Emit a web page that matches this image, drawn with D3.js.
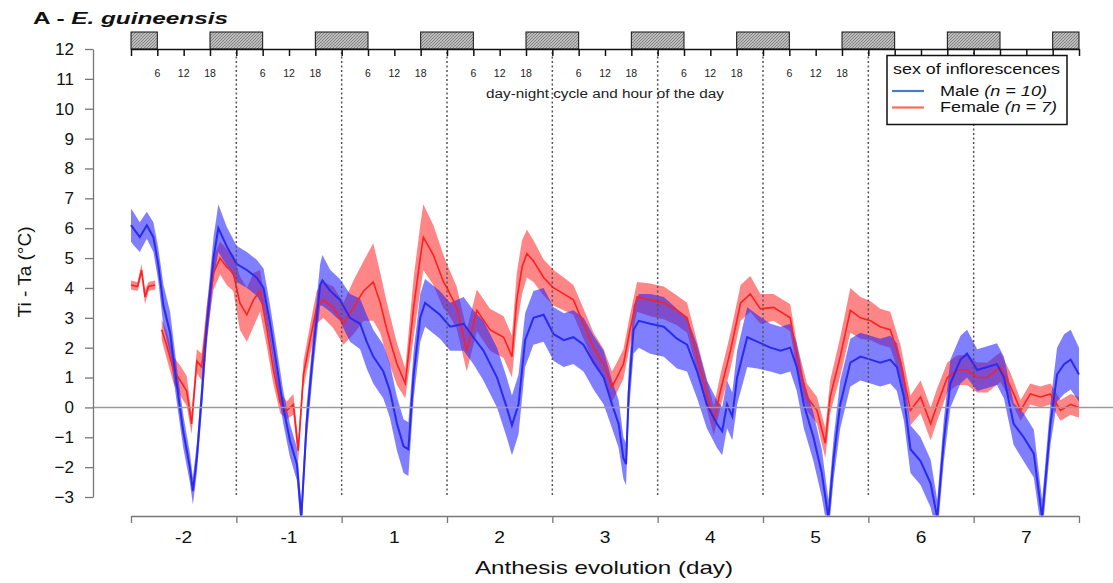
<!DOCTYPE html>
<html>
<head>
<meta charset="utf-8">
<script src="https://cdn.jsdelivr.net/npm/d3@7/dist/d3.min.js"></script>
<style>
  html, body { margin: 0; padding: 0; background: #fff; }
  svg { display: block; font-family: "Liberation Sans", Arial, Helvetica, sans-serif; }
</style>
</head>
<body>
<svg id="chart" width="1113" height="583"></svg>
<script>
// ---------------- DATA ----------------
// time in hours since the start of the record (9 days = 216 h)
const dayLabels = ["-2", "-1", "1", "2", "3", "4", "5", "6", "7"];
const dayBoundaries = [0, 24, 48, 72, 96, 120, 144, 168, 192, 216];
const midnightLines = [24, 48, 72, 96, 120, 144, 168, 192];
const hourTickLabels = ["6", "12", "18"];
const nightStart = [0, 18, 42, 66, 90, 114, 138, 162, 186, 210];
const nightEnd   = [6, 30, 54, 78, 102, 126, 150, 174, 198, 216];
const yTicks = [-3, -2, -1, 0, 1, 2, 3, 4, 5, 6, 7, 8, 9, 10, 11, 12];

// Male inflorescences (n = 10): mean and half-width of the shaded band
const maleHours = [0,0.5,2,3.6,5.1,6.2,7.4,8.9,10.4,11.9,13.4,14.1,15,16.1,17.2,18.8,19.9,21.8,24.1,26.4,28.6,30.2,31.7,33.2,34.7,36.2,37.8,38.8,40,41.6,43.1,43.6,45.4,47.6,49.9,52.2,53.7,55.2,57.5,59,60.6,62.1,63.2,64.4,65.9,67,70.4,72.7,75.8,78,80.3,83.4,85.6,86.8,88.3,89.8,91.7,94,96.3,98.6,100.8,103.1,105.4,107.7,109.6,111.1,112.2,112.8,113.4,114.5,115.7,118.3,121.4,124.4,126.7,129,131.2,133.5,134.7,135.8,137,138.1,140.4,142.7,145.7,148,150.2,151.7,153.3,155.5,157.4,158.9,160.1,161.6,163.9,166.2,168.5,170.7,173,174.5,176.1,177.6,179.9,182.2,183.7,185.2,186.7,189,190.5,192.8,195.1,197.3,198.9,201.1,203.4,205.7,207.6,209.5,211,212.6,214.1,216];
const maleMean = [6.1,6.0,5.7,6.1,5.7,4.8,3.4,2.5,0.8,-0.8,-2.0,-2.8,-1.7,0.35,2.6,5.0,6.0,5.4,4.8,4.6,4.35,4.0,2.8,1.4,0.0,-1.1,-1.9,-3.7,-0.55,2.0,4.1,4.25,3.9,3.6,3.0,2.8,2.2,1.7,1.2,0.55,-0.55,-1.3,-1.4,1.1,3.0,3.5,3.1,2.7,2.8,2.35,1.9,1.0,0.0,-0.6,0.1,2.25,3.0,3.1,2.45,2.25,2.35,2.1,1.5,1.0,0.1,-0.55,-1.7,-1.9,0.5,2.6,2.9,2.8,2.7,2.3,2.1,1.2,0.1,-0.55,-0.8,0.1,-0.3,1.0,2.35,2.2,2.0,1.9,2.0,1.35,0.1,-1.0,-2.2,-3.7,-1.7,0.1,1.5,1.7,1.6,1.5,1.6,1.35,0.35,-1.4,-1.8,-2.55,-3.7,-1.1,0.8,1.6,1.8,1.25,1.35,1.45,1.0,-0.55,-1.0,-1.55,-3.7,-0.55,1.1,1.45,1.6,1.1];
const maleErr  = [0.55,0.55,0.5,0.45,0.5,0.55,0.7,0.7,0.6,0.55,
                  0.5,0.45,0.5,0.55,0.6,0.7,0.8,0.65,0.6,0.6,
                  0.6,0.65,0.6,0.6,0.55,0.55,0.55,0.5,0.6,0.6,
                  0.7,0.85,0.7,0.7,0.8,0.85,0.9,0.9,0.9,0.9,
                  0.9,0.9,0.9,0.8,0.8,0.8,0.8,0.8,0.9,0.9,
                  1.0,1.0,1.0,1.0,1.0,0.9,0.9,0.9,0.9,0.9,
                  0.9,0.9,0.9,0.9,0.8,0.8,0.7,0.7,0.8,0.8,
                  0.9,1.0,1.0,1.0,0.9,0.9,0.8,0.8,0.8,0.8,
                  0.8,0.9,1.0,0.9,0.8,0.8,0.8,0.8,0.8,0.8,
                  0.8,0.6,0.7,0.8,0.8,0.8,0.8,0.8,0.8,0.8,
                  0.8,0.8,0.8,0.8,0.6,0.7,0.8,0.8,0.8,0.7,
                  0.7,0.7,0.7,0.7,0.8,0.8,0.6,0.7,0.9,1.0,
                  1.0,0.9];

// Female inflorescences (n = 7): mean and half-width (null = no data)
const femaleHours = [0,1.5,2.4,3.2,4,5.5,6.2,7,8.1,9.7,11.2,12.7,13.8,15,16.1,17.2,18.8,20.3,21.8,23.3,24.8,26.4,27.9,29.4,31,32.4,34,35.5,37,38.1,39.3,40.8,42.3,43.8,46.1,48.4,50.7,53,55.2,56.8,58.3,60.6,62.5,64.4,65.9,66.6,68.9,71.2,72,74.2,76.5,78.8,81.8,84.9,86.8,87.9,89.1,90.2,91.7,94,96.3,98.6,100.8,103.1,105.4,107.7,109.6,110.7,112.2,113.7,115.3,118.3,121.4,124.4,126.7,129,131.2,132.8,134.3,136.6,138.9,141.1,143.4,146.4,150.2,151.7,154,156.3,158.2,159.3,161.6,163.9,166.2,168.5,170.7,173,175.3,177.6,179.9,182.2,183.7,186,188.3,190.5,192.8,195.1,198.1,200.4,202.7,204.9,207.2,209.5,211.8,214.1,216];
const femaleMean = [4.1,4.05,4.6,3.7,4.05,4.1,null,2.6,2.1,1.25,0.9,0.55,-0.55,1.55,1.35,2.8,4.5,5.0,4.7,4.5,3.5,3.1,3.6,3.9,2.6,1.3,0.15,-0.1,0.1,-1.45,1.1,2.25,3.35,3.6,3.35,2.8,3.35,3.9,4.2,3.5,2.6,1.45,0.8,3.35,5.0,5.7,5.1,4.2,4.0,3.35,1.9,3.25,2.6,2.35,1.7,3.6,4.7,5.15,4.9,4.35,4.0,3.8,3.6,2.8,2.0,1.45,0.7,1.0,1.45,2.6,3.7,3.6,3.5,3.25,3.0,1.7,0.45,-0.45,0.55,1.9,3.5,3.8,3.3,3.35,3.0,1.7,0.35,-0.1,-1.2,0.35,1.7,3.25,3.0,2.9,2.7,2.6,1.55,-0.1,0.35,-0.55,0.1,1.0,1.25,1.25,1.0,1.0,1.35,0.7,-0.1,0.45,0.35,0.45,-0.1,0.1,0.0];
const femaleErr  = [0.15,0.15,0.2,0.25,0.15,0.15,null,0.35,0.45,0.45,
                    0.5,0.5,0.35,0.4,0.45,0.55,0.55,0.55,0.6,0.6,
                    0.9,0.9,0.9,0.7,0.6,0.5,0.35,0.3,0.35,0.35,
                    0.45,0.5,0.55,0.6,0.7,0.7,0.9,1.0,1.3,1.0,
                    0.9,0.7,0.5,1.0,1.1,1.1,1.0,0.9,0.8,0.7,
                    0.7,0.7,0.7,0.7,0.7,0.9,0.9,0.8,0.7,0.6,
                    0.6,0.55,0.5,0.5,0.5,0.5,0.5,0.5,0.5,0.5,
                    0.5,0.55,0.55,0.5,0.5,0.5,0.5,0.5,0.55,0.6,
                    0.6,0.6,0.5,0.45,0.45,0.45,0.45,0.45,0.5,0.55,
                    0.65,0.75,0.7,0.65,0.6,0.6,0.55,0.5,0.55,0.55,
                    0.55,0.5,0.5,0.5,0.5,0.5,0.5,0.45,0.35,0.35,
                    0.35,0.35,0.35,0.35,0.35];

// ---------------- CHART ----------------
const svg = d3.select("#chart");
const x = d3.scaleLinear().domain([0, 216]).range([131, 1079]);
const y = d3.scaleLinear().domain([-3, 12]).range([497, 49]);
const xAxisY = 516;
const legendBox = { x: 887, y: 55.5, w: 180, h: 69 };

const defs = svg.append("defs");
defs.append("clipPath").attr("id", "plotclip")
  .append("rect").attr("x", 93).attr("y", 0).attr("width", 1020).attr("height", xAxisY - 0.5);
const pat = defs.append("pattern").attr("id", "hatch")
  .attr("patternUnits", "userSpaceOnUse").attr("width", 3).attr("height", 3);
pat.append("rect").attr("width", 3).attr("height", 3).attr("fill", "#bdbdbd");
pat.append("path").attr("d", "M0,3 L3,0").attr("stroke", "#7a7a7a").attr("stroke-width", 0.9);

const male = maleHours.map((h, i) => ({ h, m: maleMean[i], e: maleErr[i] }));
const female = femaleHours.map((h, i) => ({ h, m: femaleMean[i], e: femaleErr[i] }));

const area = d3.area().defined(d => d.m != null)
  .x(d => x(d.h)).y0(d => y(d.m - d.e)).y1(d => y(d.m + d.e));
const line = d3.line().defined(d => d.m != null)
  .x(d => x(d.h)).y(d => y(d.m));

const plot = svg.append("g").attr("clip-path", "url(#plotclip)");

plot.append("path").datum(female).attr("d", area)
  .attr("fill", "rgba(255,35,35,0.55)");
plot.append("path").datum(male).attr("d", area)
  .attr("fill", "rgba(35,35,255,0.58)");

// zero line
svg.append("line").attr("x1", 93).attr("x2", 1113)
  .attr("y1", y(0)).attr("y2", y(0))
  .attr("stroke", "#9a9a9a").attr("stroke-width", 1.5);

// midnight dotted lines
svg.append("g").selectAll("line").data(midnightLines).join("line")
  .attr("x1", d => x(d)).attr("x2", d => x(d))
  .attr("y1", 52).attr("y2", y(-3))
  .attr("stroke", "#555").attr("stroke-width", 1.5)
  .attr("stroke-dasharray", "2,2.5");

plot.append("path").datum(female).attr("d", line)
  .attr("fill", "none").attr("stroke", "#ff2020").attr("stroke-width", 1.6);
plot.append("path").datum(male).attr("d", line)
  .attr("fill", "none").attr("stroke", "#2b2bf0").attr("stroke-width", 2);

// y axis
const yAxis = svg.append("g").attr("transform", "translate(93,0)")
  .call(d3.axisLeft(y).tickValues(yTicks).tickSize(8).tickSizeOuter(0).tickPadding(11));
yAxis.select(".domain").attr("stroke", "#777").attr("stroke-width", 1.3);
yAxis.selectAll(".tick line").attr("stroke", "#777").attr("stroke-width", 1.3);
yAxis.selectAll(".tick text").attr("font-size", 17).attr("fill", "#111")
  .attr("font-family", "Liberation Sans, Arial, sans-serif");

// bottom axis
const xAxis = svg.append("g").attr("transform", `translate(0,${xAxisY})`)
  .call(d3.axisBottom(x).tickValues(dayBoundaries).tickFormat("").tickSize(7).tickSizeOuter(0));
xAxis.select(".domain").attr("stroke", "#777").attr("stroke-width", 1.3);
xAxis.selectAll(".tick line").attr("stroke", "#777").attr("stroke-width", 1.3);

svg.append("g").selectAll("text").data(dayLabels).join("text")
  .attr("x", (d, i) => x((dayBoundaries[i] + dayBoundaries[i + 1]) / 2))
  .attr("y", 543).attr("text-anchor", "middle")
  .attr("font-size", 16).attr("fill", "#111")
  .attr("transform", (d, i) => {
    const cx = x((dayBoundaries[i] + dayBoundaries[i + 1]) / 2);
    return `translate(${cx},0) scale(1.2,1) translate(${-cx},0)`;
  })
  .text(d => d);

// axis titles
svg.append("text").attr("x", 604).attr("y", 574).attr("text-anchor", "middle")
  .attr("font-size", 19).attr("fill", "#111")
  .attr("textLength", 258).attr("lengthAdjust", "spacingAndGlyphs")
  .text("Anthesis evolution (day)");
svg.append("text").attr("transform", "translate(31,272) rotate(-90)")
  .attr("text-anchor", "middle").attr("font-size", 19).attr("fill", "#111")
  .text("Ti - Ta (°C)");

// panel title
const title = svg.append("text").attr("x", 33).attr("y", 24)
  .attr("font-size", 17).attr("font-weight", "bold").attr("fill", "#111")
  .attr("textLength", 195).attr("lengthAdjust", "spacingAndGlyphs");
title.append("tspan").text("A - ");
title.append("tspan").attr("font-style", "italic").text("E. guineensis");

// ---- top day-night axis ----
const topG = svg.append("g");
topG.selectAll("rect").data(nightStart).join("rect")
  .attr("x", (d) => x(d)).attr("y", 32)
  .attr("width", (d, i) => x(nightEnd[i]) - x(d)).attr("height", 17)
  .attr("fill", "url(#hatch)").attr("stroke", "#111").attr("stroke-width", 1);
const hourTicks = d3.range(0, 217, 6);
const topAxis = topG.append("g").attr("transform", "translate(0,49)")
  .call(d3.axisBottom(x).tickValues(hourTicks).tickFormat("").tickSize(7).tickSizeOuter(0));
topAxis.select(".domain").attr("stroke", "#111").attr("stroke-width", 1.5);
topAxis.selectAll(".tick line").attr("stroke", "#111").attr("stroke-width", 1.5);

// hour labels (those under the legend box are hidden by it in the original)
const hourLabelData = [];
dayBoundaries.slice(0, -1).forEach(d0 => {
  hourTickLabels.forEach(lbl => hourLabelData.push({ h: d0 + (+lbl), lbl }));
});
topG.append("g").selectAll("text")
  .data(hourLabelData.filter(d => x(d.h) < legendBox.x - 8)).join("text")
  .attr("x", d => x(d.h)).attr("y", 77).attr("text-anchor", "middle")
  .attr("font-size", 10.5).attr("fill", "#222")
  .text(d => d.lbl);

svg.append("text").attr("x", 605).attr("y", 98).attr("text-anchor", "middle")
  .attr("font-size", 12.5).attr("fill", "#222")
  .attr("textLength", 238).attr("lengthAdjust", "spacingAndGlyphs")
  .text("day-night cycle and hour of the day");

// ---- legend ----
const lg = svg.append("g");
lg.append("rect").attr("x", legendBox.x).attr("y", legendBox.y)
  .attr("width", legendBox.w).attr("height", legendBox.h)
  .attr("fill", "#fff").attr("stroke", "#111").attr("stroke-width", 1.5);
lg.append("text").attr("x", 893).attr("y", 74).attr("font-size", 14).attr("fill", "#111")
  .attr("textLength", 167).attr("lengthAdjust", "spacingAndGlyphs")
  .text("sex of inflorescences");
const legendItems = [
  { name: "Male ", n: "(n = 10)", color: "#4a7cc4", y: 91, w: 107 },
  { name: "Female ", n: "(n = 7)", color: "#f2705a", y: 107.5, w: 117 }
];
legendItems.forEach(it => {
  lg.append("line").attr("x1", 892).attr("x2", 924).attr("y1", it.y).attr("y2", it.y)
    .attr("stroke", it.color).attr("stroke-width", 2.2);
  const t = lg.append("text").attr("x", 940).attr("y", it.y + 4.5)
    .attr("font-size", 14).attr("fill", "#111")
    .attr("textLength", it.w).attr("lengthAdjust", "spacingAndGlyphs");
  t.append("tspan").text(it.name);
  t.append("tspan").attr("font-style", "italic").text(it.n);
});
</script>
</body>
</html>
